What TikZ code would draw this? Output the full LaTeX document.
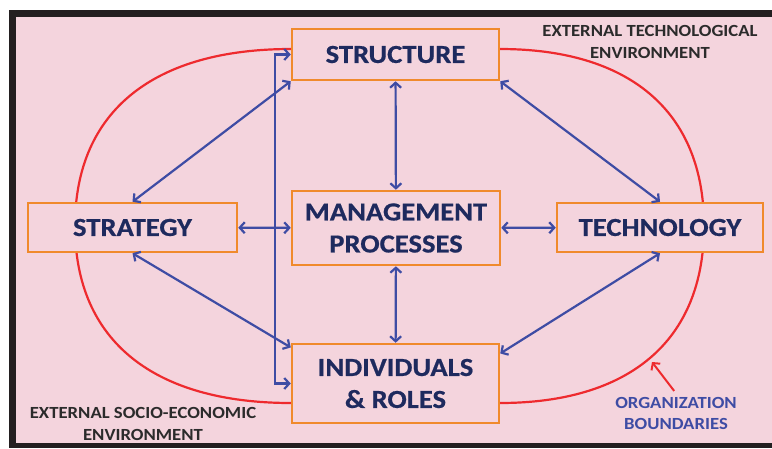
\documentclass[tikz,border=0pt]{standalone}
\usepackage{fontspec}
\setmainfont{Carlito}
\newfontfamily\unitfont[FakeStretch=1.1, FakeBold=0.6]{Carlito Bold}
\newfontfamily\notefont[FakeStretch=1.1]{Carlito Bold}
\usetikzlibrary{arrows.meta}

\definecolor{pinkbg}{HTML}{F4D4DD}
\definecolor{framegray}{HTML}{231F20}
\definecolor{boxorange}{HTML}{F08A2C}
\definecolor{arrowblue}{HTML}{3E4CA4}
\definecolor{boundred}{HTML}{EE2A2E}
\definecolor{navytext}{HTML}{1E2A5E}
\definecolor{envgray}{HTML}{2B2B2B}

\begin{document}
\begin{tikzpicture}[x=1pt,y=-1pt]
			\tikzset{unit/.style={draw = boxorange, line width = 2.5pt, fill = pinkbg, text = navytext,
					font = \unitfont\fontsize{26}{32}\selectfont, align = center, inner sep = 0pt}}
			\tikzset{link/.style={draw = arrowblue, line width = 2.2pt,
					{Straight Barb[length=5pt,width=11pt]}-{Straight Barb[length=5pt,width=11pt]}}}
			\tikzset{envnote/.style={text = envgray, font = \notefont\fontsize{17}{22}\selectfont, align = center}}
			%frame
			\useasboundingbox (0, 0) rectangle (772, 448);
			\fill[white] (0, 0) rectangle (772, 448);
			\fill[framegray] (9, 10) rectangle (772, 448);
			\fill[pinkbg] (16, 17) rectangle (772, 443);
			%organization boundaries
			\draw[boundred, line width = 2.2pt] (291, 49) .. controls (155, 49) and (75, 110) .. (75, 226)
				.. controls (75, 342) and (155, 403) .. (291, 403);
			\draw[boundred, line width = 2.2pt] (500, 49) .. controls (628, 49) and (704, 110) .. (704, 226)
				.. controls (704, 342) and (628, 403) .. (500, 403);
			%units
			\node[unit, minimum width = 207, minimum height = 51] (structure) at (395.5, 54.5) {STRUCTURE};
			\node[unit, minimum width = 209, minimum height = 49] (strategy) at (132.5, 227.5) {STRATEGY};
			\node[unit, minimum width = 208, minimum height = 74] (management) at (396, 228) {MANAGEMENT\\PROCESSES};
			\node[unit, minimum width = 206, minimum height = 49] (technology) at (660, 227.5) {TECHNOLOGY};
			\node[unit, minimum width = 207, minimum height = 79] (individuals) at (395.5, 383.5) {INDIVIDUALS\\\& ROLES};
			%environment texts
			\node[envnote] (techenv) at (650, 42) {EXTERNAL TECHNOLOGICAL\\ENVIRONMENT};
			\node[envnote] (socioenv) at (143, 424) {EXTERNAL SOCIO-ECONOMIC\\ENVIRONMENT};
			\node[envnote, text = arrowblue, font = \notefont\fontsize{17}{21}\selectfont] (orgnote) at (676, 413)
				{ORGANIZATION\\BOUNDARIES};
			\coordinate (boundtip) at (652, 362);
			%links
			\path (structure) edge[link] (management);
			\path (management) edge[link] (individuals);
			\path (strategy) edge[link] (management);
			\path (management) edge[link] (technology);
			\path (strategy.north) edge[link] (structure.south west);
			\path (strategy.south) edge[link] (individuals.161);
			\path (technology.north) edge[link] (structure.south east);
			\path (technology.south) edge[link] (individuals.16);
			\draw[link] (structure.west) -- ++(-16, 0) |- (individuals.west);
			\draw[boundred, line width = 2pt, -{Straight Barb[length=5pt,width=11pt]}, shorten <= 3pt]
				(orgnote.north) -- (boundtip);
\end{tikzpicture}
\end{document}
